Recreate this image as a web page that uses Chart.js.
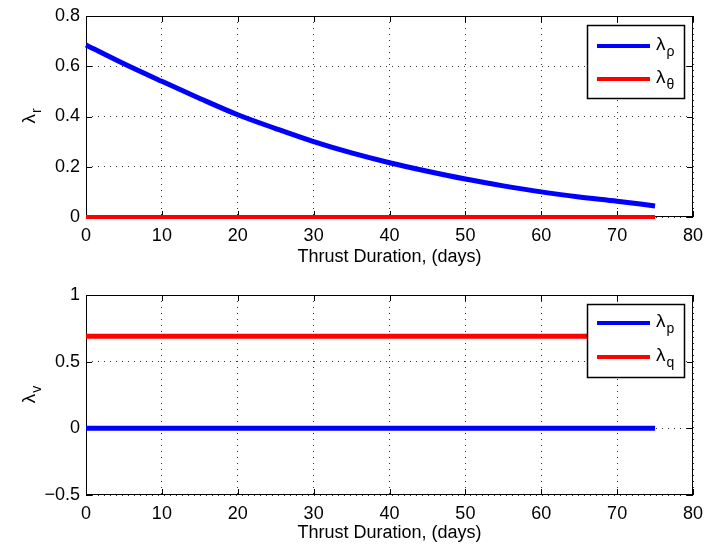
<!DOCTYPE html>
<html>
<head>
<meta charset="utf-8">
<script src="https://cdn.jsdelivr.net/npm/chart.js@4.4.0/dist/chart.umd.min.js"></script>
<style>
  html, body { margin: 0; padding: 0; background: #fff; }
  #wrap { position: relative; width: 705px; height: 546px; }
  canvas { position: absolute; left: 0; }
</style>
</head>
<body>
<div id="wrap">
  <canvas id="topChart" width="705" height="270" style="top:0px"></canvas>
  <canvas id="bottomChart" width="705" height="276" style="top:270px"></canvas>
</div>
<script>
// --- Data ---
const days = [0, 5, 10, 15, 20, 25, 30, 35, 40, 45, 50, 55, 60, 65, 70, 75];

// top panel: lambda_r
const lambdaR_rho   = [0.685, 0.610, 0.540, 0.472, 0.407, 0.352, 0.300, 0.255, 0.216, 0.182, 0.151, 0.124, 0.100, 0.080, 0.063, 0.044];
const lambdaR_theta = [0, 0, 0, 0, 0, 0, 0, 0, 0, 0, 0, 0, 0, 0, 0, 0];

// bottom panel: lambda_v
const lambdaV_p = [0, 0, 0, 0, 0, 0, 0, 0, 0, 0, 0, 0, 0, 0, 0, 0];
const lambdaV_q = [0.69, 0.69, 0.69, 0.69, 0.69, 0.69, 0.69, 0.69, 0.69, 0.69, 0.69, 0.69, 0.69, 0.69, 0.69, 0.69];

const xTicks = [0, 10, 20, 30, 40, 50, 60, 70, 80];
const topYTicks = [0, 0.2, 0.4, 0.6, 0.8];
const bottomYTicks = [-0.5, 0, 0.5, 1];

const FONT = "'Liberation Sans', Arial, sans-serif";
const BLUE = "#0000ff";
const RED = "#ff0000";

function pts(xs, ys) {
    return xs.map((x, i) => ({ x: x, y: ys[i] }));
}

function fmt(v) {
    const s = String(parseFloat(v.toFixed(2)));
    return s.replace("-", "\u2212");
}

// draws "λ" with a smaller subscript
function drawSubText(ctx, main, sub, x, y, align) {
    ctx.font = "19px " + FONT;
    const w1 = ctx.measureText(main).width;
    ctx.font = "14px " + FONT;
    const w2 = ctx.measureText(sub).width;
    let start = x;
    if (align === "center") start = x - (w1 + w2) / 2;
    ctx.textAlign = "left";
    ctx.textBaseline = "alphabetic";
    ctx.font = "19px " + FONT;
    ctx.fillText(main, start, y);
    ctx.font = "14px " + FONT;
    ctx.fillText(sub, start + w1 + 1, y + 6);
}

// MATLAB-style frame, inward ticks, axis labels and legend
const matlabLook = {
    id: "matlabLook",
    beforeDatasetsDraw(chart) {
        const ctx = chart.ctx;
        const ca = chart.chartArea;
        const xs = chart.scales.x;
        const ys = chart.scales.y;
        ctx.save();
        ctx.strokeStyle = "#000";
        ctx.lineWidth = 1;
        ctx.strokeRect(ca.left + 0.5, ca.top + 0.5, ca.right - ca.left - 1, ca.bottom - ca.top - 1);

        ctx.beginPath();
        xs.ticks.forEach(t => {
            const px = Math.round(xs.getPixelForValue(t.value)) + 0.5;
            ctx.moveTo(px, ca.bottom); ctx.lineTo(px, ca.bottom - 6);
            ctx.moveTo(px, ca.top); ctx.lineTo(px, ca.top + 6);
        });
        ys.ticks.forEach(t => {
            const py = Math.round(ys.getPixelForValue(t.value)) + 0.5;
            ctx.moveTo(ca.left, py); ctx.lineTo(ca.left + 6, py);
            ctx.moveTo(ca.right, py); ctx.lineTo(ca.right - 6, py);
        });
        ctx.stroke();
        ctx.restore();
    },
    afterDatasetsDraw(chart, args, opts) {
        const ctx = chart.ctx;
        const ca = chart.chartArea;
        ctx.save();

        ctx.fillStyle = "#000";
        // x title
        ctx.font = "18px " + FONT;
        ctx.textAlign = "center";
        ctx.textBaseline = "middle";
        ctx.fillText("Thrust Duration, (days)", (ca.left + ca.right) / 2, ca.bottom + opts.xTitleOffset);

        // y title (rotated)
        ctx.save();
        ctx.translate(30, (ca.top + ca.bottom) / 2);
        ctx.rotate(-Math.PI / 2);
        drawSubText(ctx, "\u03bb", opts.ySub, 0, 5, "center");
        ctx.restore();

        // legend
        const bw = 97, bh = 73;
        const bx = ca.right - 9 - bw;
        const by = ca.top + 9;
        ctx.fillStyle = "#fff";
        ctx.fillRect(bx, by, bw, bh);
        ctx.strokeStyle = "#000";
        ctx.lineWidth = 1.5;
        ctx.strokeRect(bx + 0.5, by + 0.5, bw, bh);
        chart.data.datasets.forEach((ds, i) => {
            const ly = by + opts.rowY[i];
            ctx.strokeStyle = ds.borderColor;
            ctx.lineWidth = 4;
            ctx.beginPath();
            ctx.moveTo(bx + 10, ly);
            ctx.lineTo(bx + 63, ly);
            ctx.stroke();
            ctx.fillStyle = "#000";
            drawSubText(ctx, "\u03bb", ds.sub, bx + 69, ly + 4, "left");
        });
        ctx.restore();
    }
};

function makeChart(id, datasets, yMin, yMax, yTicks, padTop, xHeight, plugOpts) {
    return new Chart(document.getElementById(id), {
        type: "line",
        data: { datasets: datasets },
        options: {
            responsive: false,
            animation: false,
            devicePixelRatio: 1,
            layout: { padding: { left: 0, right: 12, top: padTop, bottom: 0 } },
            plugins: {
                legend: { display: false },
                tooltip: { enabled: false },
                matlabLook: plugOpts
            },
            elements: { point: { radius: 0 } },
            scales: {
                x: {
                    type: "linear",
                    min: 0, max: 80,
                    afterBuildTicks: s => { s.ticks = xTicks.map(v => ({ value: v })); },
                    afterFit: s => { s.height = xHeight; s.paddingRight = 0; s.paddingLeft = 0; },
                    grid: { color: "#333", lineWidth: 1, drawTicks: false },
                    border: { display: false, dash: [1, 5] },
                    ticks: { color: "#000", font: { family: FONT, size: 18 }, padding: 8, maxRotation: 0, callback: v => fmt(v) }
                },
                y: {
                    min: yMin, max: yMax,
                    afterBuildTicks: s => { s.ticks = yTicks.map(v => ({ value: v })); },
                    afterFit: s => { s.width = 86; s.paddingTop = 0; s.paddingBottom = 0; },
                    grid: { color: "#333", lineWidth: 1, drawTicks: false },
                    border: { display: false, dash: [1, 5] },
                    ticks: { color: "#000", font: { family: FONT, size: 18 }, padding: 6, callback: v => fmt(v) }
                }
            }
        },
        plugins: [matlabLook]
    });
}

makeChart("topChart", [
    { label: "\u03bb\u03c1", sub: "\u03c1", data: pts(days, lambdaR_rho), borderColor: BLUE, borderWidth: 5, cubicInterpolationMode: "monotone", clip: 6 },
    { label: "\u03bb\u03b8", sub: "\u03b8", data: pts(days, lambdaR_theta), borderColor: RED, borderWidth: 4, clip: 6 }
], 0, 0.8, topYTicks, 16, 53, { ySub: "r", xTitleOffset: 40, rowY: [21, 54] });

makeChart("bottomChart", [
    { label: "\u03bbp", sub: "p", data: pts(days, lambdaV_p), borderColor: BLUE, borderWidth: 5, clip: 6 },
    { label: "\u03bbq", sub: "q", data: pts(days, lambdaV_q), borderColor: RED, borderWidth: 5, clip: 6 }
], -0.5, 1, bottomYTicks, 25, 51, { ySub: "v", xTitleOffset: 38, rowY: [19, 53] });
</script>
</body>
</html>
